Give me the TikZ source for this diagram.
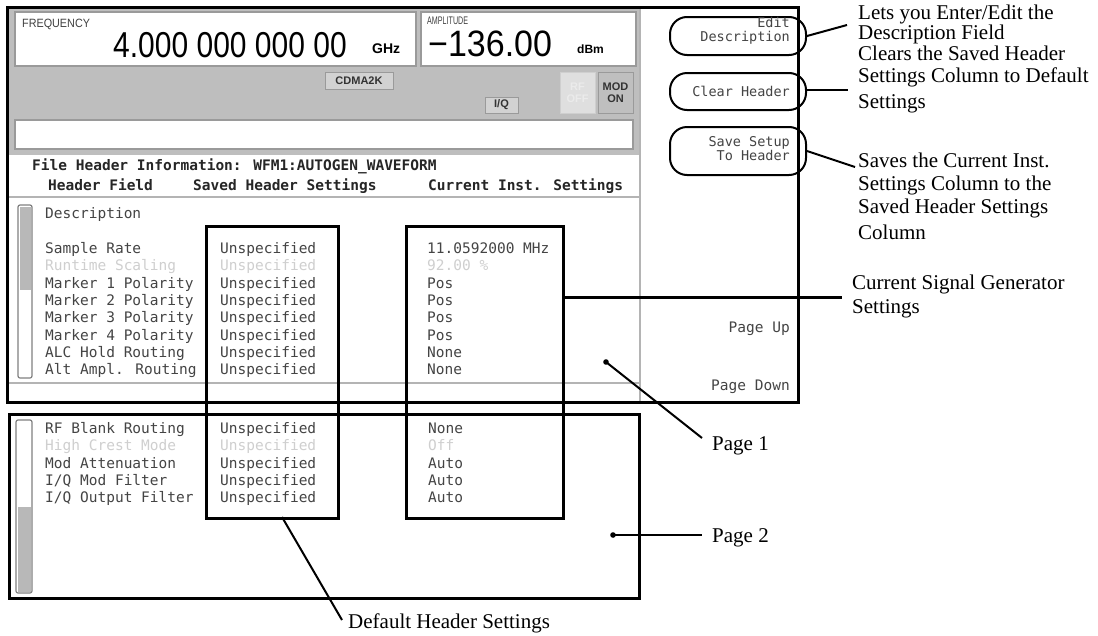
\documentclass[tikz,border=0pt]{standalone}
\usepackage{fontspec}
\usepackage{graphicx}
\setmainfont{Liberation Serif}
\newfontfamily\scrfont{DejaVu Sans Mono}
\newfontfamily\lcdfont{Liberation Sans}
\definecolor{bezel}{HTML}{BEBEBE}
\definecolor{edgec}{HTML}{9A9A9A}
\definecolor{scrtxt}{HTML}{444444}
\definecolor{faint}{HTML}{CFCFCF}
\definecolor{sepline}{HTML}{B4B4B4}
\definecolor{barfill}{HTML}{B8B8B8}
\definecolor{btnfill}{HTML}{D2D2D2}
\tikzset{
  ann/.style={font=\fontsize{21}{23}\selectfont, anchor=base west, inner sep=0},
  scr/.style={font=\scrfont\fontsize{14.5}{17}\selectfont, text=scrtxt, anchor=base west, inner sep=0},
  scrb/.style={font=\scrfont\bfseries\fontsize{14.5}{17}\selectfont, text=black!85, anchor=base west, inner sep=0},
  dim/.style={scr, text=faint},
  scrr/.style={scr, anchor=base east},
  keytxt/.style={font=\scrfont\fontsize{13.5}{15}\selectfont, text=scrtxt, anchor=base east, inner sep=0},
  frame/.style={draw=black, line width=3pt, inner sep=0, anchor=north west},
  lead/.style={draw=black, line width=2pt},
  softkey/.style={draw=black, line width=2pt, rounded corners=17pt, minimum width=136pt, inner sep=0},
  btn/.style={draw=edgec, fill=btnfill, line width=1pt, inner sep=0, font=\lcdfont\bfseries\fontsize{11}{12}\selectfont, text=black!80},
  lcdbox/.style={draw=edgec, fill=white, line width=1.5pt},
  dotc/.style={fill=black}
}
\begin{document}
\begin{tikzpicture}[x=1pt,y=-1pt]
\useasboundingbox (0,0) rectangle (1098,635);
\fill[white] (0,0) rectangle (1098,635);

% ---------- screen background ----------
\fill[bezel] (6,6) rectangle (640,155);
\draw[lcdbox] (15,12) rectangle (416,66);
\draw[lcdbox] (421,12) rectangle (636,66);
\draw[lcdbox] (15,120) rectangle (633,149);
\draw[sepline, line width=2pt] (640,6) -- (640,401);
\draw[sepline, line width=1.5pt] (9,197) -- (640,197);
\draw[sepline, line width=1.5pt] (9,383) -- (640,383);

% frequency / amplitude
\node[anchor=base west, inner sep=0, font=\lcdfont\fontsize{12}{12}\selectfont, text=black!75] (freqlab) at (22,27) {\scalebox{0.9}[1]{FREQUENCY}};
\node[anchor=base west, inner sep=0, font=\lcdfont\fontsize{30}{30}\selectfont] (freqval) at (113,57) {\scalebox{1}[1.2]{4.000 000 000 00}};
\node[anchor=base west, inner sep=0, font=\lcdfont\bfseries\fontsize{14}{14}\selectfont] (ghz) at (372,53) {GHz};
\node[anchor=base west, inner sep=0, font=\lcdfont\fontsize{11}{11}\selectfont, text=black!75] (amplab) at (427,24) {\scalebox{0.65}[1]{AMPLITUDE}};
\node[anchor=base west, inner sep=0, font=\lcdfont\fontsize{34}{34}\selectfont] (ampval) at (428,56) {\scalebox{1}[1.08]{−136.00}};
\node[anchor=base west, inner sep=0, font=\lcdfont\bfseries\fontsize{12}{12}\selectfont] (dbm) at (577,53) {dBm};

% buttons in grey band
\node[btn, minimum width=68pt, minimum height=17pt] (cdma) at (359,80.5) {CDMA2K};
\node[btn, minimum width=33pt, minimum height=16pt] (iq) at (501.5,105) {I/Q};
\node[btn, fill=btnfill!70, draw=faint, minimum width=35pt, minimum height=41pt, align=center, text=white!92!black] (rfoff) at (577.5,92.5) {RF\\OFF};
\node[btn, fill=barfill!90, minimum width=35pt, minimum height=41pt, align=center] (modon) at (615.5,92.5) {MOD\\ON};

% soft keys
\node[softkey, minimum height=38pt] (k1) at (738,36) {};
\node[softkey, minimum height=37pt] (k2) at (738,91.5) {};
\node[softkey, minimum height=48pt] (k3) at (738,151) {};
\node[keytxt] (k1a) at (790,27) {Edit};
\node[keytxt] (k1b) at (790,41) {Description};
\node[keytxt] (k2a) at (790,96) {Clear Header};
\node[keytxt] (k3a) at (790,146) {Save Setup};
\node[keytxt] (k3b) at (790,160) {To Header};
\node[scrr] (pgup) at (790,332) {Page Up};
\node[scrr] (pgdn) at (790,390) {Page Down};

% header texts
\node[scrb] (fhi) at (32,170) {File Header Information: WFM1:AUTOGEN\_WAVEFORM};
\node[scrb] (h1) at (48,190) {Header Field};
\node[scrb] (h2) at (193,190) {Saved Header Settings};
\node[scrb] (h3) at (428,190) {Current Inst. Settings};
\node[scr] (desc) at (45,218) {Description};

% page 1 scrollbar
\draw[gray, line width=1.2pt, fill=white, rounded corners=2pt] (18,205) rectangle (32,378);
\fill[barfill] (19.5,206.5) rectangle (30.5,290);

% page 1 rows
\node[scr] (f1) at (45,253) {Sample Rate};
\node[dim] (f2) at (45,270) {Runtime Scaling};
\node[scr] (f3) at (45,288) {Marker 1 Polarity};
\node[scr] (f4) at (45,305) {Marker 2 Polarity};
\node[scr] (f5) at (45,322) {Marker 3 Polarity};
\node[scr] (f6) at (45,340) {Marker 4 Polarity};
\node[scr] (f7) at (45,357) {ALC Hold Routing};
\node[scr] (f8) at (45,374) {Alt Ampl. Routing};
\node[scr] (s1) at (220,253) {Unspecified};
\node[dim] (s2) at (220,270) {Unspecified};
\node[scr] (s3) at (220,288) {Unspecified};
\node[scr] (s4) at (220,305) {Unspecified};
\node[scr] (s5) at (220,322) {Unspecified};
\node[scr] (s6) at (220,340) {Unspecified};
\node[scr] (s7) at (220,357) {Unspecified};
\node[scr] (s8) at (220,374) {Unspecified};
\node[scr] (c1) at (427,253) {11.0592000 MHz};
\node[dim] (c2) at (427,270) {92.00 \%};
\node[scr] (c3) at (427,288) {Pos};
\node[scr] (c4) at (427,305) {Pos};
\node[scr] (c5) at (427,322) {Pos};
\node[scr] (c6) at (427,340) {Pos};
\node[scr] (c7) at (427,357) {None};
\node[scr] (c8) at (427,374) {None};

% page 2 scrollbar
\draw[gray, line width=1.2pt, fill=white, rounded corners=2pt] (16,420) rectangle (32,593);
\fill[barfill] (17.5,507) rectangle (30.5,591.5);

% page 2 rows
\node[scr] (g1) at (45,433) {RF Blank Routing};
\node[dim] (g2) at (45,450) {High Crest Mode};
\node[scr] (g3) at (45,468) {Mod Attenuation};
\node[scr] (g4) at (45,485) {I/Q Mod Filter};
\node[scr] (g5) at (45,502) {I/Q Output Filter};
\node[scr] (t1) at (220,433) {Unspecified};
\node[dim] (t2) at (220,450) {Unspecified};
\node[scr] (t3) at (220,468) {Unspecified};
\node[scr] (t4) at (220,485) {Unspecified};
\node[scr] (t5) at (220,502) {Unspecified};
\node[scr] (d1) at (428,433) {None};
\node[dim] (d2) at (428,450) {Off};
\node[scr] (d3) at (428,468) {Auto};
\node[scr] (d4) at (428,485) {Auto};
\node[scr] (d5) at (428,502) {Auto};

% frames
\node[frame, minimum width=791pt, minimum height=395pt] (page1) at (6,6) {};
\node[frame, minimum width=630pt, minimum height=184pt] (page2) at (8,413) {};
\node[frame, minimum width=132pt, minimum height=292pt] (savedcol) at (205,225) {};
\node[frame, minimum width=157pt, minimum height=292pt] (curcol) at (405,225) {};

% annotation labels
\node[ann] (e1a) at (858,19) {Lets you Enter/Edit the};
\node[ann] (e1b) at (858,39) {Description Field};
\node[ann] (e2a) at (858,60) {Clears the Saved Header};
\node[ann] (e2b) at (858,82) {Settings Column to Default};
\node[ann] (e2c) at (858,108) {Settings};
\node[ann] (e3a) at (858,167) {Saves the Current Inst.};
\node[ann] (e3b) at (858,190) {Settings Column to the};
\node[ann] (e3c) at (858,213) {Saved Header Settings};
\node[ann] (e3d) at (858,239) {Column};
\node[ann] (e4a) at (852,289) {Current Signal Generator};
\node[ann] (e4b) at (852,313) {Settings};
\node[ann] (p1lab) at (712,450) {Page 1};
\node[ann] (p2lab) at (712,542) {Page 2};
\node[ann] (dhs) at (348,628) {Default Header Settings};

% connector ends
\coordinate (e1end) at (847,25);
\coordinate (e2end) at (848,90);
\coordinate (e3end) at (855,167);
\coordinate (e4end) at (842,297);
\coordinate (p1dot) at (606,362);
\coordinate (p1end) at (702,438);
\coordinate (p2dot) at (613,535);
\coordinate (p2end) at (702,535);
\coordinate (dhsstart) at (282,517);
\coordinate (dhsend) at (342,620);

% connectors
\draw[lead] (k1.east) -- (e1end);
\draw[lead] (k2.east |- e2end) -- (e2end);
\draw[lead] (k3.east) -- (e3end);
\draw[draw=black, line width=3pt] (curcol.east |- e4end) -- (e4end);
\draw[lead] (p1dot) -- (p1end);
\fill[dotc] (p1dot) circle (2.8pt);
\draw[lead] (p2dot) -- (p2end);
\fill[dotc] (p2dot) circle (2.8pt);
\draw[lead] (dhsstart) -- (dhsend);
\end{tikzpicture}
\end{document}
